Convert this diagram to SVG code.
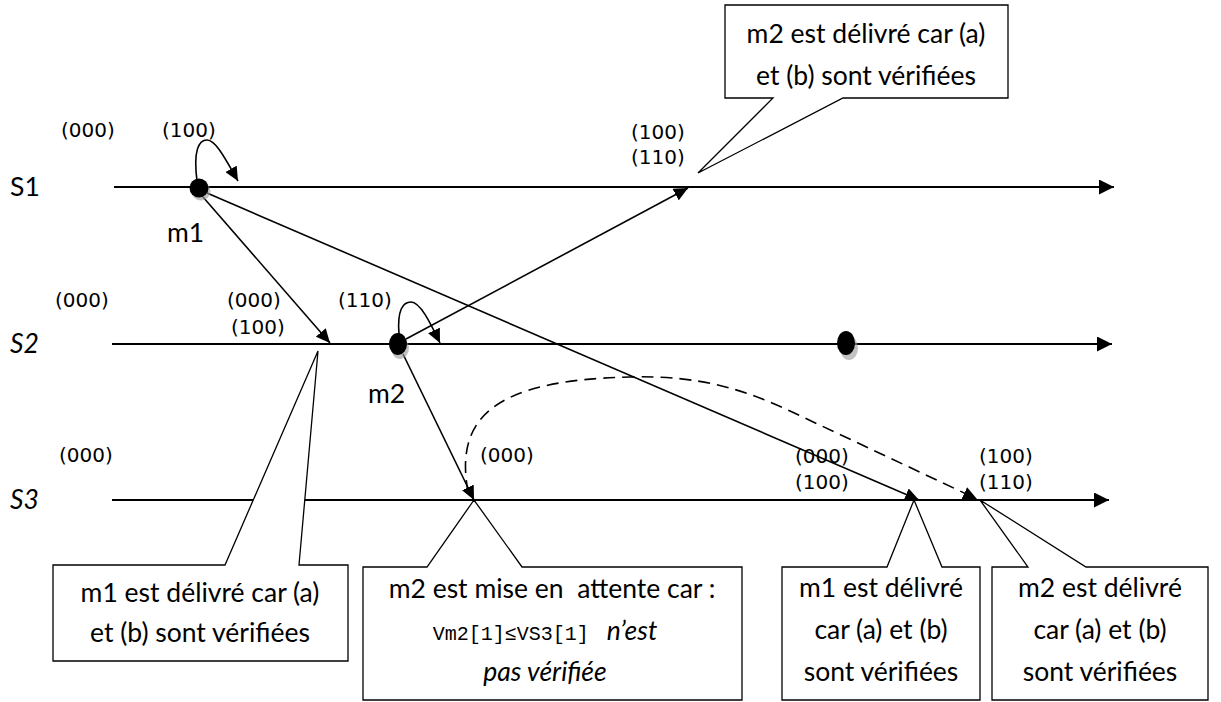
<svg xmlns="http://www.w3.org/2000/svg" width="1221" height="702" viewBox="0 0 1221 702">
  <style>
    .axis { stroke: #000; stroke-width: 2; fill: none; }
    .msg { stroke: #000; stroke-width: 1.6; fill: none; }
    .dash { stroke: #000; stroke-width: 1.6; fill: none; stroke-dasharray: 12 7; }
    .note { fill: #fff; stroke: #000; stroke-width: 1.3; }
    .txt { font-family: Lato, "Open Sans", sans-serif; font-size: 26.5px; fill: #000; }
    .clk { font-family: "DejaVu Sans", sans-serif; font-size: 20px; fill: #000; }
    .mono { font-family: "Liberation Mono", monospace; font-size: 20px; }
    .it { font-style: italic; }
    .dot { fill: #000; }
    .shadow { fill: #999; opacity: 0.6; }
  </style>
  <defs>
    <marker id="axisHead" markerUnits="userSpaceOnUse" markerWidth="16" markerHeight="15" refX="15" refY="7.5" orient="auto">
      <path d="M0,0 L15,7.5 L0,15 Z" fill="#000"/>
    </marker>
    <marker id="msgHead" markerUnits="userSpaceOnUse" markerWidth="15" markerHeight="13" refX="14" refY="6.5" orient="auto">
      <path d="M0,0 L14,6.5 L0,13 Z" fill="#000"/>
    </marker>
  </defs>

  <rect width="1221" height="702" fill="#fff"/>

  <!-- process time lines -->
  <g id="process-S1">
    <line class="axis" x1="114" y1="187" x2="1114" y2="187" marker-end="url(#axisHead)"/>
    <text class="txt" x="10" y="196" font-size="27">S1</text>
  </g>
  <g id="process-S2">
    <line class="axis" x1="112" y1="344" x2="1112" y2="344" marker-end="url(#axisHead)"/>
    <text class="txt it" x="10" y="353" font-size="27">S2</text>
  </g>
  <g id="process-S3">
    <line class="axis" x1="112" y1="500" x2="1109" y2="500" marker-end="url(#axisHead)"/>
    <text class="txt it" x="10" y="509" font-size="27">S3</text>
  </g>

  <!-- messages and local events -->
  <g id="connectors">
    <path class="msg" d="M197,181 C193,150 199,140 207,140 C216,140 226,160 238,181" marker-end="url(#msgHead)"/>
    <path class="msg" d="M399,334 C397,310 403,302 411,302 C420,302 430,322 440,343" marker-end="url(#msgHead)"/>
    <line class="msg" x1="203" y1="197" x2="330" y2="343" marker-end="url(#msgHead)"/>
    <line class="msg" x1="207" y1="193" x2="919" y2="500" marker-end="url(#msgHead)"/>
    <line class="msg" x1="406" y1="339" x2="688" y2="188" marker-end="url(#msgHead)"/>
    <line class="msg" x1="403" y1="354" x2="474" y2="500" marker-end="url(#msgHead)"/>
    <path class="dash" d="M468,492 C455,420 490,380 630,377 C700,375 745,390 790,411 L977,499" marker-end="url(#msgHead)"/>
  </g>

  <!-- send events -->
  <g id="event-m1">
    <ellipse class="shadow" cx="201" cy="191" rx="9.5" ry="9.5"/>
    <ellipse class="dot" cx="199" cy="188" rx="9.5" ry="9.5"/>
    <text class="txt" x="167" y="242">m1</text>
  </g>
  <g id="event-m2">
    <ellipse class="shadow" cx="400" cy="348" rx="9" ry="11"/>
    <ellipse class="dot" cx="398" cy="344" rx="9" ry="11"/>
    <text class="txt" x="368" y="403">m2</text>
  </g>
  <g id="event-S2">
    <ellipse class="shadow" cx="849" cy="348" rx="9" ry="12"/>
    <ellipse class="dot" cx="846" cy="343" rx="9" ry="12"/>
  </g>

  <!-- vector clocks -->
  <g id="clocks">
    <text class="clk" x="61" y="137">(000)</text>
    <text class="clk" x="162" y="137">(100)</text>
    <text class="clk" x="631" y="139">(100)</text>
    <text class="clk" x="631" y="164">(110)</text>
    <text class="clk" x="55" y="307">(000)</text>
    <text class="clk" x="227" y="307">(000)</text>
    <text class="clk" x="231" y="334">(100)</text>
    <text class="clk" x="338" y="307">(110)</text>
    <text class="clk" x="59" y="462">(000)</text>
    <text class="clk" x="480" y="462">(000)</text>
    <text class="clk" x="795" y="463">(000)</text>
    <text class="clk" x="795" y="489">(100)</text>
    <text class="clk" x="979" y="463">(100)</text>
    <text class="clk" x="979" y="489">(110)</text>
  </g>

  <!-- callouts -->
  <g id="note-m2-S1">
    <path class="note" d="M725,5 H1008 V98 H843 L698,173 L773,98 H725 Z"/>
    <text class="txt" text-anchor="middle" x="866" y="43">m2 est délivré car (a)</text>
    <text class="txt" text-anchor="middle" x="866" y="85">et (b) sont vérifiées</text>
  </g>
  <g id="note-m1-S2">
    <path class="note" d="M53,565 H225 L318,351 L299,565 H348 V661 H53 Z"/>
    <text class="txt" text-anchor="middle" x="200" y="602">m1 est délivré car (a)</text>
    <text class="txt" text-anchor="middle" x="200" y="642">et (b) sont vérifiées</text>
  </g>
  <g id="note-m2-wait">
    <path class="note" d="M363,567 H427 L474,500 L522,567 H742 V700 H363 Z"/>
    <text class="txt" text-anchor="middle" x="552" y="598" xml:space="preserve">m2 est mise en  attente car :</text>
    <text class="txt" text-anchor="middle" x="545" y="640"><tspan class="mono">Vm2[1]≤VS3[1]</tspan><tspan class="it" dx="18">n’est</tspan></text>
    <text class="txt it" text-anchor="middle" x="545" y="681">pas vérifiée</text>
  </g>
  <g id="note-m1-S3">
    <path class="note" d="M782,567 H887 L914,500 L942,567 H980 V700 H782 Z"/>
    <text class="txt" text-anchor="middle" x="881" y="597">m1 est délivré</text>
    <text class="txt" text-anchor="middle" x="881" y="639">car (a) et (b)</text>
    <text class="txt" text-anchor="middle" x="881" y="681">sont vérifiées</text>
  </g>
  <g id="note-m2-S3">
    <path class="note" d="M992,567 H1028 L980,500 L1086,567 H1208 V700 H992 Z"/>
    <text class="txt" text-anchor="middle" x="1100" y="597">m2 est délivré</text>
    <text class="txt" text-anchor="middle" x="1100" y="639">car (a) et (b)</text>
    <text class="txt" text-anchor="middle" x="1100" y="681">sont vérifiées</text>
  </g>
</svg>
